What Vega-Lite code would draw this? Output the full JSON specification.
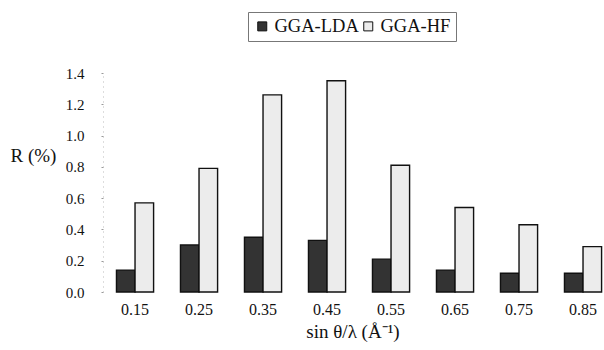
{
  "$schema": "https://vega.github.io/schema/vega-lite/v6.json",
  "autosize": {"type": "none"},
  "padding": {"left": 103, "top": 73, "right": 2, "bottom": 58},
  "width": 499,
  "height": 219,
  "background": "white",
  "data": {
    "values": [
      {"s": "0.15", "series": "GGA-LDA", "R": 0.14},
      {"s": "0.15", "series": "GGA-HF", "R": 0.57},
      {"s": "0.25", "series": "GGA-LDA", "R": 0.30},
      {"s": "0.25", "series": "GGA-HF", "R": 0.79},
      {"s": "0.35", "series": "GGA-LDA", "R": 0.35},
      {"s": "0.35", "series": "GGA-HF", "R": 1.26},
      {"s": "0.45", "series": "GGA-LDA", "R": 0.33},
      {"s": "0.45", "series": "GGA-HF", "R": 1.35},
      {"s": "0.55", "series": "GGA-LDA", "R": 0.21},
      {"s": "0.55", "series": "GGA-HF", "R": 0.81},
      {"s": "0.65", "series": "GGA-LDA", "R": 0.14},
      {"s": "0.65", "series": "GGA-HF", "R": 0.54},
      {"s": "0.75", "series": "GGA-LDA", "R": 0.12},
      {"s": "0.75", "series": "GGA-HF", "R": 0.43},
      {"s": "0.85", "series": "GGA-LDA", "R": 0.12},
      {"s": "0.85", "series": "GGA-HF", "R": 0.29}
    ]
  },
  "mark": {"type": "bar", "stroke": "#111", "strokeWidth": 1.4},
  "encoding": {
    "x": {
      "field": "s",
      "type": "ordinal",
      "scale": {"paddingInner": 0.42, "paddingOuter": 0.1085, "align": 0.97},
      "axis": {
        "title": "sin θ/λ (Å⁻¹)",
        "labelAngle": 0,
        "domain": false,
        "ticks": false,
        "labelPadding": 9,
        "labelFont": "Liberation Serif",
        "labelFontSize": 16,
        "labelColor": "#111",
        "titleFont": "Liberation Serif",
        "titleFontSize": 19,
        "titleFontWeight": "normal",
        "titleColor": "#111",
        "titlePadding": 5
      }
    },
    "xOffset": {
      "field": "series",
      "type": "nominal",
      "sort": ["GGA-LDA", "GGA-HF"],
      "scale": {"paddingInner": 0, "paddingOuter": 0}
    },
    "y": {
      "field": "R",
      "type": "quantitative",
      "scale": {"domain": [0, 1.4], "nice": false},
      "axis": {
        "title": "R (%)",
        "values": [0, 0.2, 0.4, 0.6, 0.8, 1.0, 1.2, 1.4],
        "format": ".1f",
        "grid": false,
        "domainColor": "#bbb",
        "domainDash": [1, 4],
        "tickColor": "#999",
        "tickSize": 2,
        "labelPadding": 17,
        "labelFont": "Liberation Serif",
        "labelFontSize": 15,
        "labelColor": "#111",
        "titleFont": "Liberation Serif",
        "titleFontSize": 19,
        "titleFontWeight": "normal",
        "titleColor": "#111",
        "titleAngle": 0,
        "titleAlign": "center",
        "titleBaseline": "alphabetic",
        "titleX": -70,
        "titleY": 88
      }
    },
    "color": {
      "field": "series",
      "type": "nominal",
      "sort": ["GGA-LDA", "GGA-HF"],
      "scale": {"domain": ["GGA-LDA", "GGA-HF"], "range": ["#333333", "#ececec"]},
      "legend": {
        "title": null,
        "orient": "none",
        "legendX": 145,
        "legendY": -61,
        "direction": "horizontal",
        "symbolType": "square",
        "symbolSize": 81,
        "symbolStrokeColor": "#111",
        "symbolStrokeWidth": 1,
        "symbolOpacity": 1,
        "labelFont": "Liberation Serif",
        "labelFontSize": 18.5,
        "labelColor": "#111",
        "labelOffset": 3,
        "columnPadding": 0,
        "padding": 5,
        "strokeColor": "#777"
      }
    }
  },
  "config": {"view": {"stroke": null}}
}
